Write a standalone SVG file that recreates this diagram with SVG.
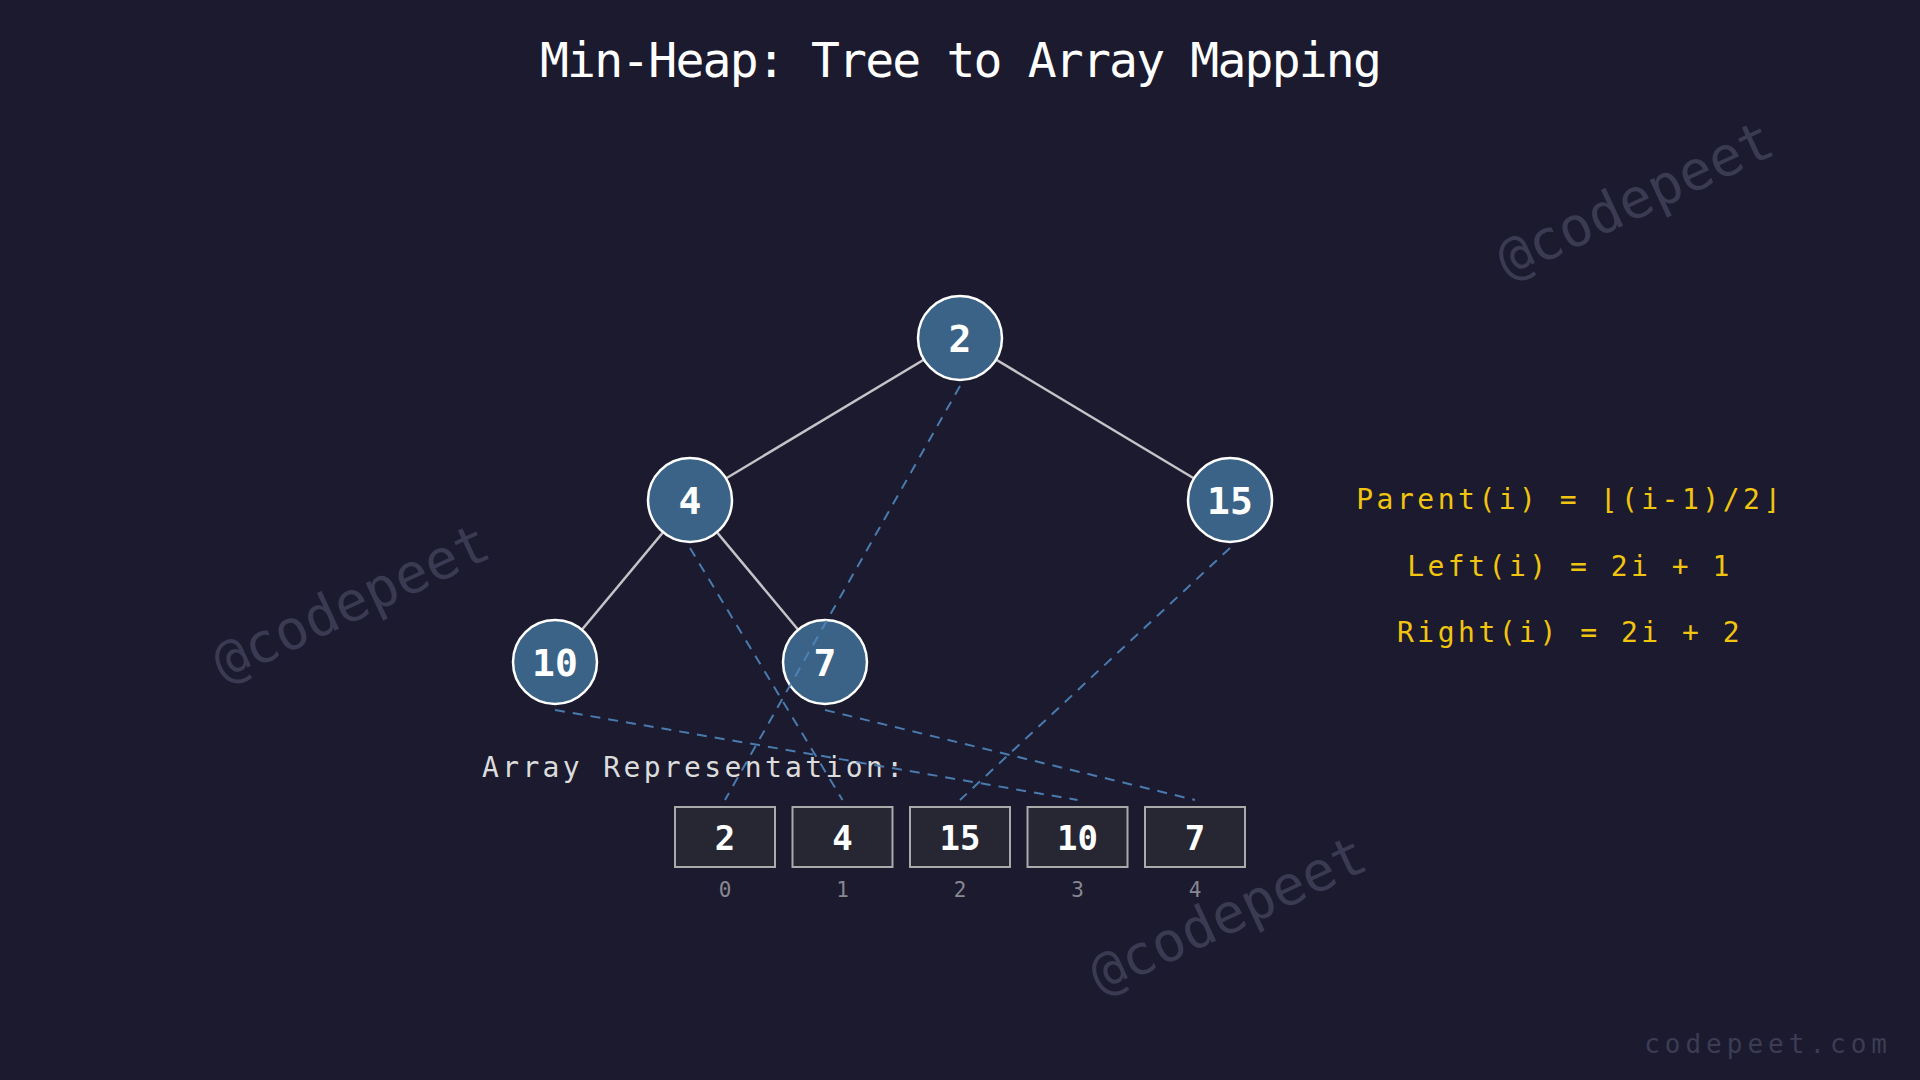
<svg xmlns="http://www.w3.org/2000/svg" width="1920" height="1080" viewBox="0 0 1920 1080">
  <style>
    .title { font-family: "DejaVu Sans Mono", "Liberation Mono", monospace; font-size: 48px; fill: #ffffff; text-anchor: middle; letter-spacing: -1.8px; }
    .wm { font-family: "DejaVu Sans Mono", monospace; font-size: 55px; fill: #3a3a52; text-anchor: middle; }
    .edge { stroke: #c4c4c8; stroke-width: 2.5; fill: none; }
    .map { stroke: #4f86bd; stroke-width: 2; stroke-dasharray: 10 8; fill: none; opacity: 0.9; }
    .node circle { fill: #3b6387; stroke: #ffffff; stroke-width: 2.5; }
    .node text { font-family: "DejaVu Sans Mono", monospace; font-weight: bold; font-size: 38px; fill: #ffffff; text-anchor: middle; }
    .cell rect { fill: #272734; stroke: #aaaaaa; stroke-width: 2; }
    .cell .val { font-family: "DejaVu Sans Mono", monospace; font-weight: bold; font-size: 34px; fill: #ffffff; text-anchor: middle; }
    .cell .idx { font-family: "DejaVu Sans Mono", monospace; font-size: 21px; fill: #888890; text-anchor: middle; }
    .label { font-family: "DejaVu Sans Mono", monospace; font-size: 28px; fill: #dcdcdc; letter-spacing: 3.35px; }
    .formula { font-family: "DejaVu Sans Mono", monospace; font-size: 28px; fill: #f1c40f; text-anchor: middle; letter-spacing: 3.5px; }
    .footer { font-family: "DejaVu Sans Mono", monospace; font-size: 26px; fill: #3c3c54; text-anchor: end; letter-spacing: 5px; }
  </style>
  <rect x="0" y="0" width="1920" height="1080" fill="#1b1a2e"/>

  <g id="watermarks">
    <text class="wm" transform="translate(1636,202) rotate(-25)" x="0" y="16">@codepeet</text>
    <text class="wm" transform="translate(352,605) rotate(-25)" x="0" y="16">@codepeet</text>
    <text class="wm" transform="translate(1229,917) rotate(-25)" x="0" y="16">@codepeet</text>
  </g>

  <text class="title" x="960" y="77">Min-Heap: Tree to Array Mapping</text>

  <g id="edges">
    <line class="edge" x1="960" y1="338" x2="690" y2="500"/>
    <line class="edge" x1="960" y1="338" x2="1230" y2="500"/>
    <line class="edge" x1="690" y1="500" x2="555" y2="662"/>
    <line class="edge" x1="690" y1="500" x2="825" y2="662"/>
  </g>

  <g id="node-2" class="node"><circle cx="960" cy="338" r="42"/><text x="960" y="352">2</text></g>
  <g id="node-4" class="node"><circle cx="690" cy="500" r="42"/><text x="690" y="514">4</text></g>
  <g id="node-15" class="node"><circle cx="1230" cy="500" r="42"/><text x="1230" y="514">15</text></g>
  <g id="node-10" class="node"><circle cx="555" cy="662" r="42"/><text x="555" y="676">10</text></g>
  <g id="node-7" class="node"><circle cx="825" cy="662" r="42"/><text x="825" y="676">7</text></g>

  <text class="label" x="482" y="777">Array Representation:</text>

  <g id="cell-0" class="cell"><rect x="675" y="807" width="100" height="60"/><text class="val" x="725" y="850">2</text><text class="idx" x="725" y="897">0</text></g>
  <g id="cell-1" class="cell"><rect x="792.5" y="807" width="100" height="60"/><text class="val" x="842.5" y="850">4</text><text class="idx" x="842.5" y="897">1</text></g>
  <g id="cell-2" class="cell"><rect x="910" y="807" width="100" height="60"/><text class="val" x="960" y="850">15</text><text class="idx" x="960" y="897">2</text></g>
  <g id="cell-3" class="cell"><rect x="1027.5" y="807" width="100" height="60"/><text class="val" x="1077.5" y="850">10</text><text class="idx" x="1077.5" y="897">3</text></g>
  <g id="cell-4" class="cell"><rect x="1145" y="807" width="100" height="60"/><text class="val" x="1195" y="850">7</text><text class="idx" x="1195" y="897">4</text></g>

  <g id="mapping">
    <line class="map" x1="960" y1="386" x2="725" y2="800"/>
    <line class="map" x1="690" y1="548" x2="842.5" y2="800"/>
    <line class="map" x1="1230" y1="548" x2="960" y2="800"/>
    <line class="map" x1="555" y1="710" x2="1077.5" y2="800"/>
    <line class="map" x1="825" y1="710" x2="1195" y2="800"/>
  </g>

  <g id="formulas">
    <text class="formula" x="1570" y="509">Parent(i) = ⌊(i-1)/2⌋</text>
    <text class="formula" x="1570" y="576">Left(i) = 2i + 1</text>
    <text class="formula" x="1570" y="642">Right(i) = 2i + 2</text>
  </g>

  <text class="footer" x="1892" y="1053">codepeet.com</text>
</svg>
